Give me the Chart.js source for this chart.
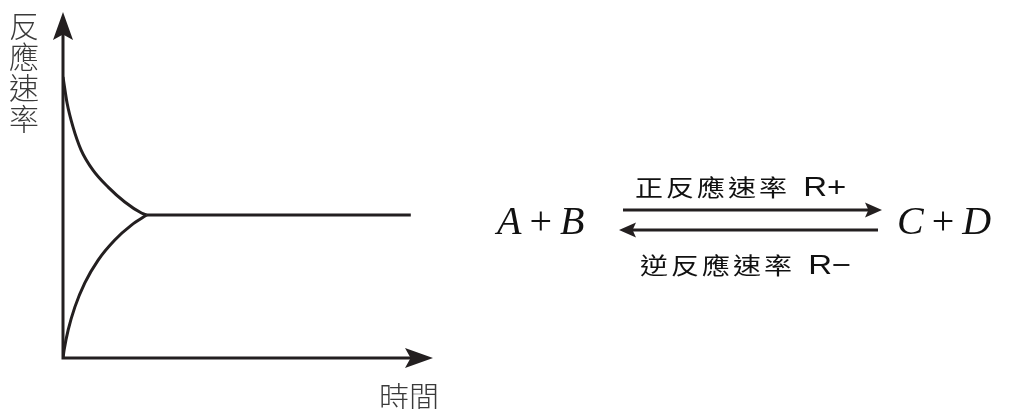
<!DOCTYPE html>
<html>
<head>
<meta charset="utf-8">
<script src="https://cdn.jsdelivr.net/npm/chart.js@4.4.0/dist/chart.umd.min.js"></script>
<style>
  html, body { margin: 0; padding: 0; background: #fff; }
  #wrap { position: relative; width: 1018px; height: 409px; overflow: hidden; }
  #rate { position: absolute; left: 0; top: 0; }
  .lbl { position: absolute; color: #3a3a3a; font-family: "Noto Sans CJK TC", sans-serif; font-weight: 300; white-space: nowrap; }
  .ylbl { left: 9px; top: 9px; font-size: 30px; line-height: 31px; width: 32px; }
  .xlbl { left: 379px; top: 379px; font-size: 30px; line-height: 1.1; }
  .eq { position: absolute; font-family: "Liberation Serif", "Times New Roman", serif; font-style: italic; font-size: 40px; line-height: 1; color: #111; white-space: nowrap; }
  .eq .op { font-style: normal; padding: 0 8px; }
  .rxn { position: absolute; font-family: "Noto Sans CJK TC", sans-serif; font-size: 28px; line-height: 1; letter-spacing: 3px; color: #111; white-space: nowrap; transform: scale(1, 0.82); transform-origin: 0 0; }
  .rxn .r { font-family: "Liberation Sans", Arial, sans-serif; letter-spacing: 0; font-size: 33px; margin-left: 4px; }
</style>
</head>
<body>
<div id="wrap">
  <canvas id="rate" width="1018" height="409"></canvas>
  <div class="lbl ylbl">反<br>應<br>速<br>率</div>
  <div class="lbl xlbl">時間</div>
  <div class="eq" style="left:497px; top:201px;">A<span class="op">+</span>B</div>
  <div class="eq" style="left:897px; top:201px;">C<span class="op">+</span>D</div>
  <div class="rxn" style="left:635px; top:173px;">正反應速率 <span class="r">R+</span></div>
  <div class="rxn" style="left:640px; top:251px;">逆反應速率 <span class="r">R−</span></div>
</div>
<script>
// (time, rate)
const forwardTime = [0, 0.11, 0.27, 0.49, 0.81, 1.22, 1.67, 2.12, 2.26];
const forwardRate = [8.12, 7.37, 6.68, 6.01, 5.43, 4.94, 4.51, 4.19, 4.13];
const reverseTime = [0, 0.03, 0.14, 0.32, 0.59, 0.95, 1.4, 1.85, 2.26];
const reverseRate = [0, 0.23, 0.81, 1.47, 2.17, 2.83, 3.41, 3.84, 4.13];
const equilTime = [2.26, 9.4];
const equilRate = [4.13, 4.13];

const axisMax = 10;
const ink = "#231f20";

function pts(xs, ys) {
  return xs.map((x, i) => ({ x: x, y: ys[i] }));
}

function arrowHead(ctx, tipX, tipY, dx, dy, len, half) {
  const bx = tipX - dx * len, by = tipY - dy * len;
  ctx.beginPath();
  ctx.moveTo(tipX, tipY);
  ctx.lineTo(bx - dy * half, by + dx * half);
  ctx.lineTo(tipX - dx * len * 0.8, tipY - dy * len * 0.8);
  ctx.lineTo(bx + dy * half, by - dx * half);
  ctx.closePath();
  ctx.fill();
}

const axesPlugin = {
  id: "axesArrows",
  beforeDatasetsDraw(chart) {
    const ctx = chart.ctx;
    const xs = chart.scales.x, ys = chart.scales.y;
    const x0 = xs.getPixelForValue(0), y0 = ys.getPixelForValue(0);
    const xEnd = xs.getPixelForValue(axisMax), yEnd = ys.getPixelForValue(axisMax);
    ctx.save();
    ctx.strokeStyle = ink;
    ctx.fillStyle = ink;
    ctx.lineWidth = 3;
    ctx.beginPath();
    ctx.moveTo(x0, yEnd + 20);
    ctx.lineTo(x0, y0);
    ctx.lineTo(xEnd - 20, y0);
    ctx.stroke();
    arrowHead(ctx, x0, yEnd, 0, -1, 28, 10);
    arrowHead(ctx, xEnd, y0, 1, 0, 28, 10);

    // reaction arrows
    ctx.beginPath();
    ctx.moveTo(623, 210);
    ctx.lineTo(870, 210);
    ctx.moveTo(632, 230);
    ctx.lineTo(878, 230);
    ctx.stroke();
    arrowHead(ctx, 882, 210, 1, 0, 17, 7.5);
    arrowHead(ctx, 619, 230, -1, 0, 17, 7.5);
    ctx.restore();
  }
};

const line = (data) => ({
  data: data,
  borderColor: ink,
  borderWidth: 3,
  pointRadius: 0,
  fill: false,
  cubicInterpolationMode: "monotone",
});

new Chart(document.getElementById("rate"), {
  type: "line",
  data: {
    datasets: [
      line(pts(forwardTime, forwardRate)),
      line(pts(reverseTime, reverseRate)),
      line(pts(equilTime, equilRate)),
    ],
  },
  options: {
    responsive: false,
    animation: false,
    layout: { padding: { left: 63, top: 12, right: 1018 - 433, bottom: 409 - 358 } },
    scales: {
      x: { type: "linear", min: 0, max: axisMax, display: false },
      y: { type: "linear", min: 0, max: axisMax, display: false },
    },
    plugins: { legend: { display: false }, tooltip: { enabled: false } },
  },
  plugins: [axesPlugin],
});
</script>
</body>
</html>
